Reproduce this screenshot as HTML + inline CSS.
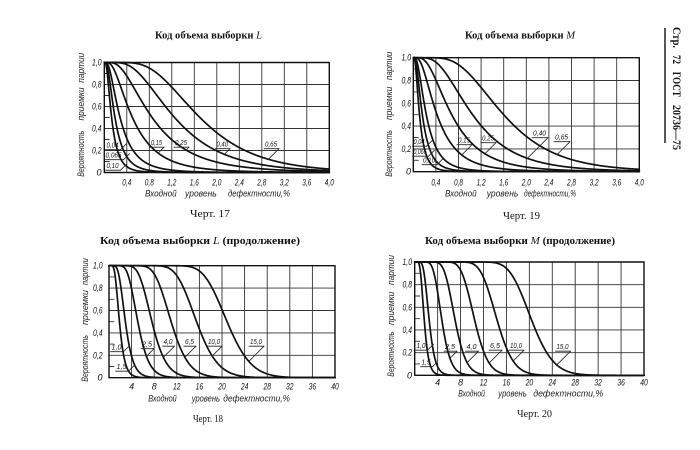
<!DOCTYPE html>
<html><head><meta charset="utf-8">
<style>html,body{margin:0;padding:0;background:#fff}svg{display:block}</style>
</head>
<body>
<svg id="s" width="700" height="450" viewBox="0 0 700 450" xmlns="http://www.w3.org/2000/svg">
<rect width="700" height="450" fill="#fff"/>
<g id="g"></g>

<!-- Titles -->
<g font-family="Liberation Serif, serif" font-weight="bold" font-size="11" fill="#111">
<text x="155" y="38.5" textLength="107" lengthAdjust="spacingAndGlyphs">Код объема выборки <tspan font-style="italic" font-weight="normal">L</tspan></text>
<text x="465" y="38.5" textLength="110" lengthAdjust="spacingAndGlyphs">Код объема выборки <tspan font-style="italic" font-weight="normal">M</tspan></text>
<text x="100" y="244" textLength="200" lengthAdjust="spacingAndGlyphs">Код объема выборки <tspan font-style="italic" font-weight="normal">L</tspan> (продолжение)</text>
<text x="425" y="244" textLength="190" lengthAdjust="spacingAndGlyphs">Код объема выборки <tspan font-style="italic" font-weight="normal">M</tspan> (продолжение)</text>
</g>
<g font-family="Liberation Serif, serif" font-size="11" fill="#111">
<text x="190" y="217" textLength="40" lengthAdjust="spacingAndGlyphs">Черт. 17</text>
<text x="503" y="219" textLength="37" lengthAdjust="spacingAndGlyphs">Черт. 19</text>
<text x="193" y="422" textLength="30" lengthAdjust="spacingAndGlyphs">Черт. 18</text>
<text x="517" y="417" textLength="35" lengthAdjust="spacingAndGlyphs">Черт. 20</text>
</g>

<!-- Right margin -->
<line x1="665" y1="28" x2="665" y2="143" stroke="#111" stroke-width="1.4"/>
<g font-family="Liberation Serif, serif" font-weight="bold" font-size="12" fill="#111">
<text transform="translate(672.8,27) rotate(90)" textLength="21" lengthAdjust="spacingAndGlyphs">Стр.</text>
<text transform="translate(672.8,55) rotate(90)" textLength="9" lengthAdjust="spacingAndGlyphs">72</text>
<text transform="translate(672.8,71.7) rotate(90)" textLength="25" lengthAdjust="spacingAndGlyphs">ГОСТ</text>
<text transform="translate(672.8,105) rotate(90)" textLength="45" lengthAdjust="spacingAndGlyphs">20736—75</text>
</g>

<!-- Axis titles -->
<g font-family="Liberation Sans, sans-serif" font-style="italic" font-size="9" fill="#222">
<text transform="translate(84,176.7) rotate(-90)" textLength="46" lengthAdjust="spacingAndGlyphs">Вероятность</text>
<text transform="translate(84,120.5) rotate(-90)" textLength="33" lengthAdjust="spacingAndGlyphs">приемки</text>
<text transform="translate(84,82.7) rotate(-90)" textLength="30" lengthAdjust="spacingAndGlyphs">партии</text>

<text transform="translate(392,176.7) rotate(-90)" textLength="46.7" lengthAdjust="spacingAndGlyphs">Вероятность</text>
<text transform="translate(392,120) rotate(-90)" textLength="33.3" lengthAdjust="spacingAndGlyphs">приемки</text>
<text transform="translate(392,80) rotate(-90)" textLength="28.3" lengthAdjust="spacingAndGlyphs">партии</text>

<text transform="translate(88,381.7) rotate(-90)" textLength="46.7" lengthAdjust="spacingAndGlyphs">Вероятность</text>
<text transform="translate(88,325) rotate(-90)" textLength="35" lengthAdjust="spacingAndGlyphs">приемки</text>
<text transform="translate(88,285) rotate(-90)" textLength="26.7" lengthAdjust="spacingAndGlyphs">партии</text>

<text transform="translate(394,376.7) rotate(-90)" textLength="45" lengthAdjust="spacingAndGlyphs">Вероятность</text>
<text transform="translate(394,325) rotate(-90)" textLength="33.3" lengthAdjust="spacingAndGlyphs">приемки</text>
<text transform="translate(394,285) rotate(-90)" textLength="30" lengthAdjust="spacingAndGlyphs">партии</text>
</g>
<g font-family="Liberation Sans, sans-serif" font-style="italic" font-size="9.5" fill="#222">
<text x="145" y="196.5" textLength="31.7" lengthAdjust="spacingAndGlyphs">Входной</text>
<text x="185" y="196.5" textLength="31.7" lengthAdjust="spacingAndGlyphs">уровень</text>
<text x="228" y="196.5" textLength="62" lengthAdjust="spacingAndGlyphs">дефектности,%</text>

<text x="445" y="196.5" textLength="31.7" lengthAdjust="spacingAndGlyphs">Входной</text>
<text x="486.7" y="196.5" textLength="31.6" lengthAdjust="spacingAndGlyphs">уровень</text>
<text x="524" y="196.5" textLength="52" lengthAdjust="spacingAndGlyphs">дефектности,%</text>

<text x="148.3" y="401.5" textLength="28.4" lengthAdjust="spacingAndGlyphs">Входной</text>
<text x="191.7" y="401.5" textLength="28.3" lengthAdjust="spacingAndGlyphs">уровень</text>
<text x="223.3" y="401.5" textLength="66.7" lengthAdjust="spacingAndGlyphs">дефектности,%</text>

<text x="458.3" y="396.5" textLength="26.7" lengthAdjust="spacingAndGlyphs">Входной</text>
<text x="498.3" y="396.5" textLength="28.4" lengthAdjust="spacingAndGlyphs">уровень</text>
<text x="533.3" y="396.5" textLength="70" lengthAdjust="spacingAndGlyphs">дефектности,%</text>
</g>

<!-- Y tick labels -->
<g font-family="Liberation Sans, sans-serif" font-style="italic" font-size="9" fill="#111" text-anchor="end">
<text x="101.5" y="65.5" textLength="9.5" lengthAdjust="spacingAndGlyphs">1,0</text>
<text x="101.5" y="87.5" textLength="9.5" lengthAdjust="spacingAndGlyphs">0,8</text>
<text x="101.5" y="109.5" textLength="9.5" lengthAdjust="spacingAndGlyphs">0,6</text>
<text x="101.5" y="131.5" textLength="9.5" lengthAdjust="spacingAndGlyphs">0,4</text>
<text x="101.5" y="153.5" textLength="9.5" lengthAdjust="spacingAndGlyphs">0,2</text>
<text x="101.5" y="175.5">0</text>

<text x="411" y="60.7" textLength="9.5" lengthAdjust="spacingAndGlyphs">1,0</text>
<text x="411" y="83.5" textLength="9.5" lengthAdjust="spacingAndGlyphs">0,8</text>
<text x="411" y="106.3" textLength="9.5" lengthAdjust="spacingAndGlyphs">0,6</text>
<text x="411" y="129.1" textLength="9.5" lengthAdjust="spacingAndGlyphs">0,4</text>
<text x="411" y="151.9" textLength="9.5" lengthAdjust="spacingAndGlyphs">0,2</text>
<text x="411" y="174.7">0</text>

<text x="102.5" y="268.7" textLength="9.5" lengthAdjust="spacingAndGlyphs">1,0</text>
<text x="102.5" y="291.1" textLength="9.5" lengthAdjust="spacingAndGlyphs">0,8</text>
<text x="102.5" y="313.5" textLength="9.5" lengthAdjust="spacingAndGlyphs">0,6</text>
<text x="102.5" y="335.9" textLength="9.5" lengthAdjust="spacingAndGlyphs">0,4</text>
<text x="102.5" y="358.3" textLength="9.5" lengthAdjust="spacingAndGlyphs">0,2</text>
<text x="102.5" y="380.7">0</text>

<text x="412" y="265" textLength="9.5" lengthAdjust="spacingAndGlyphs">1,0</text>
<text x="412" y="287.7" textLength="9.5" lengthAdjust="spacingAndGlyphs">0,8</text>
<text x="412" y="310.3" textLength="9.5" lengthAdjust="spacingAndGlyphs">0,6</text>
<text x="412" y="333" textLength="9.5" lengthAdjust="spacingAndGlyphs">0,4</text>
<text x="412" y="355.6" textLength="9.5" lengthAdjust="spacingAndGlyphs">0,2</text>
<text x="412" y="378.3">0</text>
</g>

<!-- X tick labels -->
<g font-family="Liberation Sans, sans-serif" font-style="italic" font-size="9" fill="#111" text-anchor="middle">
<text x="126.8" y="185.5" textLength="9" lengthAdjust="spacingAndGlyphs">0,4</text>
<text x="149.3" y="185.5" textLength="9" lengthAdjust="spacingAndGlyphs">0,8</text>
<text x="171.8" y="185.5" textLength="9" lengthAdjust="spacingAndGlyphs">1,2</text>
<text x="194.3" y="185.5" textLength="9" lengthAdjust="spacingAndGlyphs">1,6</text>
<text x="216.8" y="185.5" textLength="9" lengthAdjust="spacingAndGlyphs">2,0</text>
<text x="239.3" y="185.5" textLength="9" lengthAdjust="spacingAndGlyphs">2,4</text>
<text x="261.8" y="185.5" textLength="9" lengthAdjust="spacingAndGlyphs">2,8</text>
<text x="284.3" y="185.5" textLength="9" lengthAdjust="spacingAndGlyphs">3,2</text>
<text x="306.8" y="185.5" textLength="9" lengthAdjust="spacingAndGlyphs">3,6</text>
<text x="329.3" y="185.5" textLength="9" lengthAdjust="spacingAndGlyphs">4,0</text>

<text x="435.9" y="185.5" textLength="9" lengthAdjust="spacingAndGlyphs">0,4</text>
<text x="458.5" y="185.5" textLength="9" lengthAdjust="spacingAndGlyphs">0,8</text>
<text x="481.1" y="185.5" textLength="9" lengthAdjust="spacingAndGlyphs">1,2</text>
<text x="503.7" y="185.5" textLength="9" lengthAdjust="spacingAndGlyphs">1,6</text>
<text x="526.3" y="185.5" textLength="9" lengthAdjust="spacingAndGlyphs">2,0</text>
<text x="548.9" y="185.5" textLength="9" lengthAdjust="spacingAndGlyphs">2,4</text>
<text x="571.5" y="185.5" textLength="9" lengthAdjust="spacingAndGlyphs">2,8</text>
<text x="594.1" y="185.5" textLength="9" lengthAdjust="spacingAndGlyphs">3,2</text>
<text x="616.7" y="185.5" textLength="9" lengthAdjust="spacingAndGlyphs">3,6</text>
<text x="639.3" y="185.5" textLength="9" lengthAdjust="spacingAndGlyphs">4,0</text>

<text x="131.6" y="389.5">4</text>
<text x="154.2" y="389.5">8</text>
<text x="176.8" y="389.5" textLength="7.5" lengthAdjust="spacingAndGlyphs">12</text>
<text x="199.4" y="389.5" textLength="7.5" lengthAdjust="spacingAndGlyphs">16</text>
<text x="222" y="389.5" textLength="7.5" lengthAdjust="spacingAndGlyphs">20</text>
<text x="244.6" y="389.5" textLength="7.5" lengthAdjust="spacingAndGlyphs">24</text>
<text x="267.2" y="389.5" textLength="7.5" lengthAdjust="spacingAndGlyphs">28</text>
<text x="289.8" y="389.5" textLength="7.5" lengthAdjust="spacingAndGlyphs">32</text>
<text x="312.4" y="389.5" textLength="7.5" lengthAdjust="spacingAndGlyphs">36</text>
<text x="335" y="389.5" textLength="7.5" lengthAdjust="spacingAndGlyphs">40</text>

<text x="437.6" y="385.5">4</text>
<text x="460.6" y="385.5">8</text>
<text x="483.5" y="385.5" textLength="7.5" lengthAdjust="spacingAndGlyphs">12</text>
<text x="506.4" y="385.5" textLength="7.5" lengthAdjust="spacingAndGlyphs">16</text>
<text x="529.4" y="385.5" textLength="7.5" lengthAdjust="spacingAndGlyphs">20</text>
<text x="552.3" y="385.5" textLength="7.5" lengthAdjust="spacingAndGlyphs">24</text>
<text x="575.2" y="385.5" textLength="7.5" lengthAdjust="spacingAndGlyphs">28</text>
<text x="598.1" y="385.5" textLength="7.5" lengthAdjust="spacingAndGlyphs">32</text>
<text x="621.1" y="385.5" textLength="7.5" lengthAdjust="spacingAndGlyphs">36</text>
<text x="644" y="385.5" textLength="7.5" lengthAdjust="spacingAndGlyphs">40</text>
</g>

<!-- Curve labels -->
<g font-family="Liberation Sans, sans-serif" font-style="italic" font-size="7.5" fill="#111">
<text x="106.5" y="147.5" textLength="12" lengthAdjust="spacingAndGlyphs">0,04</text>
<text x="105.5" y="157.5" textLength="16" lengthAdjust="spacingAndGlyphs">0,065</text>
<text x="106.5" y="168" textLength="12" lengthAdjust="spacingAndGlyphs">0,10</text>
<text x="151" y="145" textLength="11" lengthAdjust="spacingAndGlyphs">0,15</text>
<text x="175" y="145" textLength="12" lengthAdjust="spacingAndGlyphs">0,25</text>
<text x="216.5" y="146.5" textLength="11.5" lengthAdjust="spacingAndGlyphs">0,40</text>
<text x="265" y="146.5" textLength="12" lengthAdjust="spacingAndGlyphs">0,65</text>

<text x="413.5" y="144" textLength="11" lengthAdjust="spacingAndGlyphs">0,04</text>
<text x="413.5" y="154" textLength="13" lengthAdjust="spacingAndGlyphs">0,065</text>
<text x="423" y="162.5" textLength="12" lengthAdjust="spacingAndGlyphs">0,10</text>
<text x="458" y="142.5" textLength="12" lengthAdjust="spacingAndGlyphs">0,15</text>
<text x="482" y="140.5" textLength="12" lengthAdjust="spacingAndGlyphs">0,25</text>
<text x="533" y="135.5" textLength="13" lengthAdjust="spacingAndGlyphs">0,40</text>
<text x="555" y="139.5" textLength="13" lengthAdjust="spacingAndGlyphs">0,65</text>

<text x="111.5" y="349.5" textLength="10" lengthAdjust="spacingAndGlyphs">1,0</text>
<text x="116.5" y="369" textLength="10" lengthAdjust="spacingAndGlyphs">1,5</text>
<text x="142" y="346.5" textLength="10" lengthAdjust="spacingAndGlyphs">2,5</text>
<text x="163.5" y="344" textLength="9" lengthAdjust="spacingAndGlyphs">4,0</text>
<text x="185" y="344" textLength="9" lengthAdjust="spacingAndGlyphs">6,5</text>
<text x="208" y="344" textLength="12" lengthAdjust="spacingAndGlyphs">10,0</text>
<text x="250" y="344" textLength="12" lengthAdjust="spacingAndGlyphs">15,0</text>

<text x="416.5" y="348" textLength="9" lengthAdjust="spacingAndGlyphs">1,0</text>
<text x="421.5" y="364.5" textLength="9" lengthAdjust="spacingAndGlyphs">1,5</text>
<text x="445" y="349" textLength="10" lengthAdjust="spacingAndGlyphs">2,5</text>
<text x="466.5" y="349" textLength="10" lengthAdjust="spacingAndGlyphs">4,0</text>
<text x="490" y="348" textLength="10" lengthAdjust="spacingAndGlyphs">6,5</text>
<text x="510" y="348" textLength="12" lengthAdjust="spacingAndGlyphs">10,0</text>
<text x="556.5" y="349" textLength="12" lengthAdjust="spacingAndGlyphs">15,0</text>
</g>
</svg>
<script>
(function(){
function Phi(z){var t=1/(1+0.2316419*Math.abs(z));var d=0.3989423*Math.exp(-z*z/2);var p=d*t*(0.3193815+t*(-0.3565638+t*(1.781478+t*(-1.821256+t*1.330274))));return z>0?1-p:p;}
var NS="http://www.w3.org/2000/svg";
var g=document.getElementById('g');
function path(d,w,c){var e=document.createElementNS(NS,'path');e.setAttribute('d',d);e.setAttribute('fill','none');e.setAttribute('stroke',c);e.setAttribute('stroke-width',w);e.setAttribute('stroke-linejoin','round');e.setAttribute('stroke-linecap','round');g.appendChild(e);}
var charts=[
 {x0:104.3,x1:329.3,y0:62.5,y1:172.5,xmax:4,curves:[[0.13,0.7],[0.19,0.7],[0.28,0.72],[0.5,0.7],[0.85,0.65],[1.25,0.55],[1.7,0.46]]},
 {x0:413.3,x1:639.3,y0:57.7,y1:171.7,xmax:4,curves:[[0.11,0.7],[0.16,0.7],[0.23,0.7],[0.42,0.68],[0.68,0.62],[1.05,0.55],[1.6,0.45]]},
 {x0:109,x1:335,y0:265.7,y1:377.7,xmax:40,curves:[[1.85,0.4],[2.9,0.37],[5.1,0.3],[7.6,0.26],[11,0.22],[15.5,0.19],[20.9,0.16]]},
 {x0:414.7,x1:644,y0:262,y1:375.3,xmax:40,curves:[[1.65,0.37],[2.5,0.33],[4.7,0.26],[7.0,0.22],[10.4,0.18],[14.3,0.16],[20.3,0.15]]}
];
charts.forEach(function(ch){
 var W=ch.x1-ch.x0,H=ch.y1-ch.y0,d='',i;
 for(i=1;i<10;i++){var x=ch.x0+i*W/10;d+='M'+x.toFixed(2)+','+ch.y0+'V'+ch.y1;}
 for(i=1;i<5;i++){var y=ch.y0+i*H/5;d+='M'+ch.x0+','+y.toFixed(2)+'H'+ch.x1;}
 path(d,0.9,'#333');
 var t='';
 for(i=0;i<5;i++){var yy=ch.y0+(i+0.5)*H/5;t+='M'+ch.x0+','+yy.toFixed(2)+'h5';}
 path(t,0.9,'#333');
 path('M'+ch.x0+','+ch.y0+'H'+ch.x1+'V'+ch.y1+'H'+ch.x0+'Z',1.4,'#111');
 ch.f=ch.curves.map(function(c){var m=c[0],s=c[1];return function(x){var v=(x-ch.x0)/W*ch.xmax;if(v<=0)return ch.y0;return ch.y1-Phi(Math.log(m/v)/s)*H;};});
 ch.f.forEach(function(f){var p='';for(var k=0;k<=500;k++){var x=ch.x0+W*k/500;var y=Math.min(ch.y1,Math.max(ch.y0,f(x)));p+=(k?'L':'M')+x.toFixed(2)+','+y.toFixed(2);}path(p,1.7,'#111');});
});
var labs=[
 [0,null,106.5,147.5,12,'ur'],[0,null,105.5,157.5,16,'ur'],[0,null,106.5,168,12,'ur'],
 [0,3,151,145,11,'dl'],[0,4,175,145,12,'dl'],[0,5,216.5,146.5,11.5,'dl'],[0,6,265,146.5,12,'dl'],
 [1,null,413.5,144,11,'ur'],[1,null,413.5,154,13,'ur'],[1,null,423,162.5,12,'ur'],
 [1,3,458,142.5,12,'dl'],[1,4,482,140.5,12,'dl'],[1,5,533,135.5,13,'dl'],[1,6,555,139.5,13,'dl'],
 [2,null,111.5,349.5,10,'ur'],[2,1,116.5,369,10,'ur'],[2,2,142,346.5,10,'dl'],[2,3,163.5,344,9,'dl'],[2,4,185,344,9,'dl'],[2,5,208,344,12,'dl'],[2,6,250,344,12,'dl'],
 [3,null,416.5,348,9,'ur'],[3,1,421.5,364.5,9,'ur'],[3,2,445,349,10,'dl'],[3,3,466.5,349,10,'dl'],[3,4,490,348,10,'dl'],[3,5,510,348,12,'dl'],[3,6,556.5,349,12,'dl']
];
labs.forEach(function(L){
 var ch=charts[L[0]],k=L[1],x=L[2],y=L[3],w=L[4],dir=L[5];
 var uy=y+2.2,sx=x+w+2;
 path('M'+(x-1)+','+uy+'H'+sx,0.8,'#222');
 var dx=dir==='ur'?1:-1,dy=dir==='ur'?-1:1,t=7;
 if(k!==null){var f=ch.f[k];var s0=Math.sign(uy-f(sx));var found=false;
  for(var tt=0.5;tt<=30;tt+=0.5){var px=sx+dx*tt,py=uy+dy*tt;if(Math.sign(py-f(px))!==s0){found=true;t=tt;break;}}
  if(!found)t=7;}
 else t=6;
 path('M'+sx+','+uy+'L'+(sx+dx*t)+','+(uy+dy*t),0.8,'#222');
});
})();
</script>
</body></html>
